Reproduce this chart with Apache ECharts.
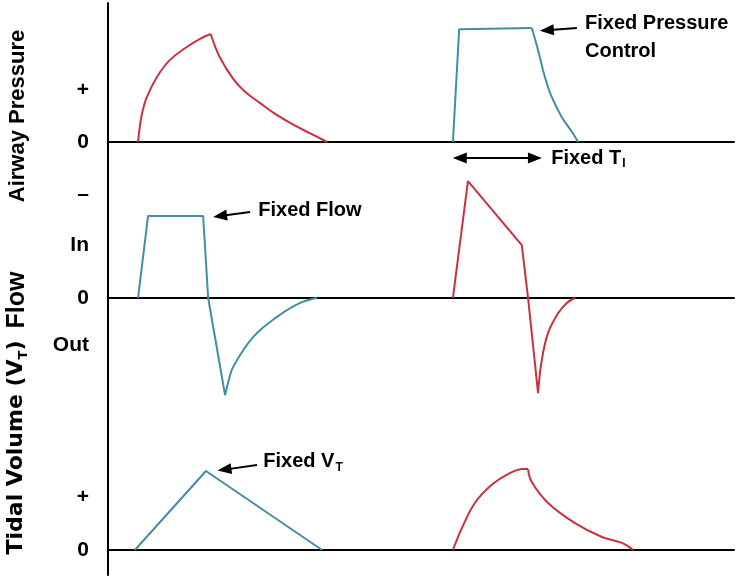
<!DOCTYPE html>
<html>
<head>
<meta charset="utf-8">
<script src="https://cdn.jsdelivr.net/npm/echarts@6/dist/echarts.min.js"></script>
<style>html,body{margin:0;padding:0;background:#fff}#c{width:750px;height:578px}</style>
</head>
<body>
<div id="c"></div>
<script>
// ---- data (time units on x, arbitrary units on y) ----
const pressureRedRise  = [[4.8,0],[5.1,3.0],[5.5,5.6],[6.2,8.3],[7.8,12.0],[9.9,15.2],[12.6,17.6],[14.7,19.1],[16.4,20]];
const pressureRedFall  = [[16.4,20],[17.9,15.6],[20.0,11.7],[21.9,9.3],[24.3,7.2],[26.7,5.2],[29.6,3.2],[32.3,1.6],[35.0,0]];
const pressureBlueRise = [[55.1,0],[56.1,20.9],[67.7,21.1]];
const pressureBlueFall = [[67.7,21.1],[68.7,17.0],[69.8,12.0],[70.9,8.3],[72.5,4.6],[74.1,1.9],[75.1,0]];
const flowBlueSquare   = [[4.8,0],[6.4,20],[15.2,20],[16.0,0],[18.7,-23.7]];
const flowBlueRecovery = [[18.7,-23.7],[19.3,-20],[20.0,-16.8],[23.2,-9.5],[27.0,-4.6],[30.7,-1.2],[33.4,0]];
const flowRedSpike     = [[55.1,0],[57.5,28.5],[66.1,12.9],[67.1,0],[68.7,-23.2]];
const flowRedRecovery  = [[68.7,-23.2],[69.3,-15.1],[70.3,-8.5],[71.9,-3.7],[73.3,-1.2],[74.6,0]];
const volumeBlue       = [[4.3,0],[15.65,20],[34.2,0]];
const volumeRedRise    = [[55.1,0],[56.55,5.6],[58.6,11.9],[61.3,16.5],[63.9,19.2],[66.3,20.5],[67.1,20.5]];
const volumeRedFall    = [[67.1,20.5],[67.7,17.2],[70.3,11.9],[74.6,6.8],[78.9,3.3],[82.1,1.8],[83.9,0]];

const panelNames = ['Airway Pressure', 'Flow', '{n|Tidal Volume (V}{s|T}{n|)}'];
const pressureTickVals = [9.6, 0, -9.6];
const pressureTickText = ['+', '0', '\u2013'];
const flowTickVals = [12.9, 0, -11.5];
const flowTickText = ['In', '0', 'Out'];
const volumeTickVals = [13.4, 0];
const volumeTickText = ['+', '0'];

// annotations: text anchor, [arrow tail, arrow tip]
const annPressureText = [76.2, 19.4];
const annPressureArrow = [[74.9, 21.1], [70.1, 20.7]];
const annTiText = [70.8, -2.96];
const annTiArrow = [[56.2, -2.96], [68.2, -2.96]];
const annFlowText = [24.0, 21.3];
const annFlowArrow = [[22.7, 21.0], [17.9, 20.0]];
const annVtText = [24.8, 22.3];
const annVtArrow = [[23.8, 21.5], [18.6, 20.35]];

const RED = '#c9313f';
const BLUE = '#3f8fa6';
const INK = '#000000';
const FONT = '"Liberation Sans", Arial, sans-serif';
const WIDE = '"DejaVu Sans", sans-serif';

const chart = echarts.init(document.getElementById('c'), null, {renderer: 'canvas'});

function yAx(gi, min, max, vals, texts, nameSize, nameFont, gap, subSize) {
  return {
    type: 'value', gridIndex: gi, min: min, max: max,
    axisLine: {show: true, onZero: false, lineStyle: {color: INK, width: 2}},
    axisTick: {show: false}, splitLine: {show: false},
    axisLabel: {
      show: true, customValues: vals, margin: 19,
      color: INK, fontSize: 21, fontWeight: 'bold', fontFamily: FONT,
      formatter: function (v) { const i = vals.indexOf(v); return i >= 0 ? texts[i] : ''; }
    },
    name: panelNames[gi], nameLocation: 'middle', nameRotate: 90, nameGap: gap,
    nameTextStyle: {
      color: INK, fontSize: nameSize, fontWeight: 'bold', fontFamily: nameFont,
      rich: {
        n: {fontSize: nameSize, fontWeight: 'bold', fontFamily: nameFont, color: INK, verticalAlign: 'middle', lineHeight: 28},
        s: {fontSize: subSize, fontWeight: 'bold', fontFamily: nameFont, color: INK, verticalAlign: 'bottom', lineHeight: 28}
      }
    }
  };
}
function xAx(gi) {
  return {
    type: 'value', gridIndex: gi, min: 0, max: 100,
    axisLine: {show: true, onZero: true, lineStyle: {color: INK, width: 2}},
    axisTick: {show: false}, axisLabel: {show: false}, splitLine: {show: false}
  };
}
function line(gi, data, color, smooth) {
  return {
    type: 'line', xAxisIndex: gi, yAxisIndex: gi, data: data, clip: false,
    smooth: smooth ? 0.4 : false,
    showSymbol: false, symbol: 'none', silent: true, animation: false,
    lineStyle: {color: color, width: 2}
  };
}
const richText = {
  a: {fontSize: 20, fontWeight: 'bold', fontFamily: FONT, color: INK, lineHeight: 28, verticalAlign: 'middle'},
  s: {fontSize: 12, fontWeight: 'bold', fontFamily: FONT, color: INK, lineHeight: 28, verticalAlign: 'bottom', padding: [0, 0, 2, 1]}
};
function annot(gi, textPt, text, arrow, both) {
  return {
    type: 'scatter', xAxisIndex: gi, yAxisIndex: gi, symbolSize: 0, silent: true, animation: false, clip: false,
    itemStyle: {opacity: 1},
    data: [textPt],
    label: {show: true, position: 'right', distance: 0, formatter: text, rich: richText, align: 'left', color: INK, opacity: 1},
    markLine: {
      silent: true, animation: false,
      symbol: both ? ['triangle', 'triangle'] : ['none', 'triangle'],
      symbolSize: [11, 14],
      label: {show: false},
      lineStyle: {color: INK, width: 2, type: 'solid', opacity: 1},
      data: [[{coord: arrow[0]}, {coord: arrow[1]}]]
    }
  };
}

const gridBase = {left: 108, right: 16, containLabel: false, outerBoundsMode: 'none'};
chart.setOption({
  animation: false,
  backgroundColor: '#ffffff',
  grid: [
    Object.assign({top: 3, height: 226}, gridBase),
    Object.assign({top: 200, height: 200}, gridBase),
    Object.assign({top: 320, height: 255}, gridBase)
  ],
  xAxis: [xAx(0), xAx(1), xAx(2)],
  yAxis: [
    yAx(0, -16.11, 25.74, pressureTickVals, pressureTickText, 22, FONT, 79, 12),
    yAx(1, -24.88, 23.90, flowTickVals, flowTickText, 25, FONT, 78, 12),
    yAx(2, -6.33, 58.23, volumeTickVals, volumeTickText, 22, WIDE, 78, 13)
  ],
  series: [
    line(0, pressureRedRise, RED, true),
    line(0, pressureRedFall, RED, true),
    line(0, pressureBlueRise, BLUE, false),
    line(0, pressureBlueFall, BLUE, true),
    line(1, flowBlueSquare, BLUE, false),
    line(1, flowBlueRecovery, BLUE, true),
    line(1, flowRedSpike, RED, false),
    line(1, flowRedRecovery, RED, true),
    line(2, volumeBlue, BLUE, false),
    line(2, volumeRedRise, RED, true),
    line(2, volumeRedFall, RED, true),
    annot(0, annPressureText, '{a|Fixed Pressure}\n{a|Control}', annPressureArrow, false),
    annot(0, annTiText, '{a|Fixed T}{s|I}', annTiArrow, true),
    annot(1, annFlowText, '{a|Fixed Flow}', annFlowArrow, false),
    annot(2, annVtText, '{a|Fixed V}{s|T}', annVtArrow, false)
  ]
});
</script>
</body>
</html>
